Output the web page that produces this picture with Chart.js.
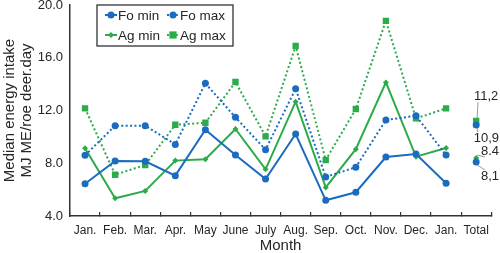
<!DOCTYPE html>
<html>
<head>
<meta charset="utf-8">
<script src="https://cdn.jsdelivr.net/npm/chart.js@4.4.0/dist/chart.umd.min.js"></script>
<style>
    html, body { margin: 0; padding: 0; background: #fff; }
    #wrap { width: 500px; height: 253px; }
</style>
</head>
<body>
<div id="wrap"><canvas id="energyChart"></canvas></div>
<script>
// Data
const months = ['Jan.', 'Feb.', 'Mar.', 'Apr.', 'May', 'June', 'July', 'Aug.', 'Sep.', 'Oct.', 'Nov.', 'Dec.', 'Jan.', 'Total'];
const foMin = [6.45, 8.17, 8.15, 7.06, 10.54, 8.62, 6.8, 10.22, 5.19, 5.8, 8.47, 8.7, 6.48, 8.1];
const foMax = [8.6, 10.85, 10.85, 9.43, 14.06, 11.48, 9.03, 13.65, 6.96, 7.7, 11.28, 11.6, 8.62, 10.9];
const agMin = [9.13, 5.34, 5.9, 8.2, 8.3, 10.6, 7.54, 12.67, 6.17, 9.07, 14.13, 8.5, 9.16, 8.4];
const agMax = [12.16, 7.13, 7.87, 10.92, 11.07, 14.16, 10.04, 16.89, 8.25, 12.11, 18.8, 11.4, 12.16, 11.2];
const totalLabels = ['8,1', '10,9', '8.4', '11,2']; // same order as the datasets
const yTicks = [4, 8, 12, 16, 20];

const BLUE = '#1b6cbf';
const GREEN = '#2bab4a';
const FONT = '"Liberation Sans", Arial, sans-serif';
const TEXT = '#262626';

// no line between the last Jan. and the Total point
const hideLast = ctx => ctx.p1DataIndex === months.length - 1 ? 'rgba(0,0,0,0)' : undefined;

function series(label, data, color, dashed, pointStyle, radius) {
    return {
        label: label,
        data: data,
        borderColor: color,
        backgroundColor: color,
        borderWidth: 2,
        borderDash: dashed ? [2, 2.4] : [],
        pointStyle: pointStyle,
        pointRadius: radius,
        pointBorderWidth: 0,
        tension: 0,
        segment: { borderColor: hideLast }
    };
}

// Legend drawn inside the plot, like the original
const boxLegend = {
    id: 'boxLegend',
    afterDraw(chart) {
        const ctx = chart.ctx;
        const x0 = chart.chartArea.left + 27, y0 = 5;
        ctx.save();
        ctx.fillStyle = '#fff';
        ctx.fillRect(x0, y0, 136, 41);
        ctx.strokeStyle = '#333';
        ctx.lineWidth = 1.3;
        ctx.strokeRect(x0, y0, 136, 41);
        chart.data.datasets.forEach((ds, i) => {
            const lx = x0 + 8 + (i % 2) * 62;
            const ly = y0 + 10 + Math.floor(i / 2) * 20;
            ctx.strokeStyle = ds.borderColor;
            ctx.lineWidth = 2;
            ctx.setLineDash(ds.borderDash);
            ctx.beginPath();
            ctx.moveTo(lx, ly);
            ctx.lineTo(lx + 12, ly);
            ctx.stroke();
            ctx.setLineDash([]);
            ctx.fillStyle = ds.borderColor;
            drawMarker(ctx, ds.pointStyle, lx + 6, ly, ds.pointRadius);
            ctx.fillStyle = TEXT;
            ctx.font = '13.5px ' + FONT;
            ctx.textBaseline = 'middle';
            ctx.textAlign = 'left';
            ctx.fillText(ds.label, lx + 13, ly + 1);
        });
        ctx.restore();
    }
};

function drawMarker(ctx, style, x, y, r) {
    ctx.beginPath();
    if (style === 'rect') {
        ctx.rect(x - r * 0.8, y - r * 0.8, r * 1.6, r * 1.6);
    } else if (style === 'rectRot') {
        ctx.moveTo(x, y - r); ctx.lineTo(x + r, y); ctx.lineTo(x, y + r); ctx.lineTo(x - r, y);
        ctx.closePath();
    } else {
        ctx.arc(x, y, r, 0, Math.PI * 2);
    }
    ctx.fill();
}

// Value labels with leader lines next to the Total points
const totalTags = {
    id: 'totalTags',
    afterDatasetsDraw(chart) {
        const ctx = chart.ctx;
        const offsets = [[14, 14], [12, 13], [14, -7], [10, -25]];
        ctx.save();
        ctx.font = '13px ' + FONT;
        ctx.textAlign = 'center';
        ctx.textBaseline = 'middle';
        chart.data.datasets.forEach((ds, i) => {
            const meta = chart.getDatasetMeta(i);
            const pt = meta.data[meta.data.length - 1];
            const text = totalLabels[i];
            const tw = ctx.measureText(text).width;
            const tx = Math.min(pt.x + offsets[i][0], chart.width - 1 - tw / 2);
            const ty = pt.y + offsets[i][1];
            const up = offsets[i][1] < 0;
            ctx.strokeStyle = '#9a9a9a';
            ctx.lineWidth = 1;
            ctx.beginPath();
            ctx.moveTo(pt.x + 1, pt.y + (up ? -3 : 3));
            ctx.lineTo(tx - tw / 2 + 4, ty + (up ? 6 : -6));
            ctx.stroke();
            ctx.fillStyle = TEXT;
            ctx.fillText(text, tx, ty);
        });
        ctx.restore();
    }
};

new Chart(document.getElementById('energyChart'), {
    type: 'line',
    data: {
        labels: months,
        datasets: [
            series('Fo min', foMin, BLUE, false, 'circle', 3.5),
            series('Fo max', foMax, BLUE, true, 'circle', 3.5),
            series('Ag min', agMin, GREEN, false, 'rectRot', 3),
            series('Ag max', agMax, GREEN, true, 'rect', 4.5)
        ]
    },
    options: {
        responsive: true,
        maintainAspectRatio: false,
        animation: false,
        layout: { padding: { top: 0, right: 2, bottom: 0, left: 0 } },
        plugins: {
            legend: { display: false },
            tooltip: { enabled: false }
        },
        scales: {
            x: {
                offset: true,
                grid: {
                    offset: true,
                    drawOnChartArea: false,
                    drawTicks: true,
                    tickLength: -4,
                    color: '#333',
                    lineWidth: 1.2
                },
                border: { color: '#333', width: 1.5 },
                ticks: {
                    color: TEXT,
                    padding: 11,
                    maxRotation: 0,
                    autoSkip: false,
                    font: { family: FONT, size: 12 }
                },
                title: {
                    display: true,
                    text: 'Month',
                    color: TEXT,
                    padding: { top: 0, bottom: 0 },
                    font: { family: FONT, size: 15, lineHeight: 1 }
                },
                afterFit(scale) { scale.height = 37; }
            },
            y: {
                min: 4,
                max: 20,
                afterBuildTicks(scale) { scale.ticks = yTicks.map(v => ({ value: v })); },
                grid: { display: false, drawTicks: false },
                border: { color: '#333', width: 1.5 },
                ticks: {
                    color: TEXT,
                    padding: 7,
                    font: { family: FONT, size: 13 },
                    callback: v => v.toFixed(1)
                },
                title: {
                    display: true,
                    text: ['Median energy intake', 'MJ ME/roe deer.day'],
                    color: TEXT,
                    padding: { top: 2, bottom: 0 },
                    font: { family: FONT, size: 15, lineHeight: 1.1 }
                },
                afterFit(scale) {
                    scale.width = 70;
                    scale.paddingTop = 5;
                    scale.paddingBottom = 0;
                }
            }
        }
    },
    plugins: [totalTags, boxLegend]
});
</script>
</body>
</html>
